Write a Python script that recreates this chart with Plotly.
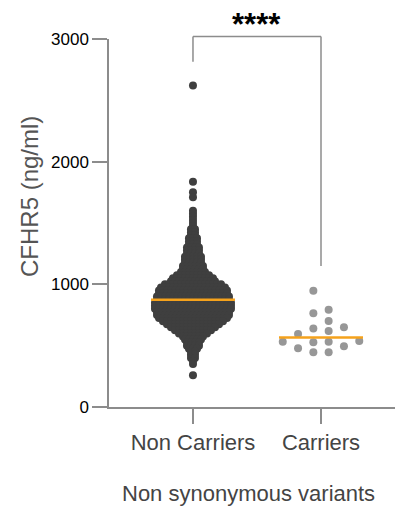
import numpy as np
import plotly.graph_objects as go

# ---------------- data ----------------
categories = ["Non Carriers", "Carriers"]

# Non carriers: dense swarm, read as number of dots per value row (ng/ml)
nc_values = [2620, 1837, 1750, 1709,
             1600, 1575, 1550, 1525, 1500, 1475, 1450, 1425, 1400, 1375,
             1350, 1325, 1300, 1275, 1250, 1225, 1200, 1175, 1150, 1125,
             1100, 1075, 1050, 1025, 1000, 975, 950, 925, 900, 875,
             850, 825, 800, 775, 750, 725, 700, 675, 650, 625,
             600, 575, 550, 525, 500, 475, 450, 425, 400, 375,
             350, 259]
nc_counts = [1, 1, 1, 1,
             1, 1, 1, 1, 1, 1, 2, 2, 2, 3,
             3, 3, 4, 4, 4, 5, 5, 5, 6, 6,
             7, 9, 11, 12, 15, 17, 18, 18, 19, 19,
             20, 20, 20, 19, 19, 18, 16, 14, 12, 10,
             8, 6, 5, 4, 4, 3, 2, 2, 2, 1,
             1, 1]

# Carriers: individual values
carrier_values = [947, 792, 765, 702, 620, 596, 640, 651,
                  528, 539, 531, 531, 447, 496, 447, 479]

y_ticks = [0, 1000, 2000, 3000]
y_title = "CFHR5 (ng/ml)"
x_title = "Non synonymous variants"
sig_label = "****"
# significance bracket: top level, left leg end, right leg end (ng/ml)
bracket_top = 3020
bracket_left_end = 2814
bracket_right_end = 1149

# ---------------- layout / style ----------------
W, H = 395, 508
ML, MR, MT, MB = 109, 0, 39, 101
XR = [-0.656, 1.578]
YR = [0, 3000]
plot_w = W - ML - MR
plot_h = H - MT - MB
px_per_x = plot_w / (XR[1] - XR[0])
px_per_y = plot_h / (YR[1] - YR[0])

AXIS_COL = "#8c8c8c"
NC_COL = "#3f3f3f"
C_COL = "#979797"
MED_COL = "#F5A21C"
FONT = "Liberation Sans, Arial, Helvetica, sans-serif"
DOT = 8

# Non-carrier rows: dots side by side, centred
nc_x, nc_y = [], []
row_step_px = 4.0
for v, n in zip(nc_values, nc_counts):
    for i in range(n):
        off_px = (i - (n - 1) / 2) * row_step_px
        nc_x.append(0 + off_px / px_per_x)
        nc_y.append(v)
nc_all = np.repeat(nc_values, nc_counts)
nc_median = float(np.median(nc_all))

# Carriers: grid swarm (half-integer columns), placed from low to high
grid_px = 15.3
min_dy = 9.5 / px_per_y
placed = []  # (col, value)
c_x, c_y = [], []
for v in sorted(carrier_values):
    k = 0
    chosen = None
    while chosen is None:
        cands = [-(k + 0.5), (k + 0.5)]
        left = sum(1 for c, _ in placed if c < 0)
        right = sum(1 for c, _ in placed if c > 0)
        if right < left:
            cands = cands[::-1]
        for c in cands:
            if all(abs(v - pv) >= min_dy for pc, pv in placed if pc == c):
                chosen = c
                break
        k += 1
    placed.append((chosen, v))
    c_x.append(1 + chosen * grid_px / px_per_x)
    c_y.append(v)
c_median = float(np.median(carrier_values))

fig = go.Figure()
fig.add_trace(go.Scatter(x=nc_x, y=nc_y, mode="markers",
                         marker=dict(size=DOT, color=NC_COL, line=dict(width=0)),
                         hoverinfo="skip", showlegend=False))
fig.add_trace(go.Scatter(x=c_x, y=c_y, mode="markers",
                         marker=dict(size=DOT, color=C_COL, line=dict(width=0)),
                         hoverinfo="skip", showlegend=False))
half = 42 / px_per_x
for cx, med in [(0, nc_median), (1, c_median)]:
    fig.add_trace(go.Scatter(x=[cx - half, cx + half], y=[med, med], mode="lines",
                             line=dict(color=MED_COL, width=2.5),
                             hoverinfo="skip", showlegend=False))

def to_paper(v):
    return (v - YR[0]) / (YR[1] - YR[0])

br = dict(type="line", xref="x", yref="paper", line=dict(color=AXIS_COL, width=1.5))
fig.add_shape(x0=0, x1=1, y0=to_paper(bracket_top), y1=to_paper(bracket_top), **br)
fig.add_shape(x0=0, x1=0, y0=to_paper(bracket_top), y1=to_paper(bracket_left_end), **br)
fig.add_shape(x0=1, x1=1, y0=to_paper(bracket_top), y1=to_paper(bracket_right_end), **br)

fig.add_annotation(x=0.5, xref="x", y=(H - MB - 25) / plot_h, yref="paper",
                   text="<b>" + sig_label + "</b>", showarrow=False,
                   font=dict(family=FONT, size=31, color="black"),
                   xanchor="center", yanchor="middle")
fig.add_annotation(x=(29 - ML) / plot_w, xref="paper", y=(H - MB - 197) / plot_h, yref="paper",
                   text=y_title, textangle=-90, showarrow=False,
                   font=dict(family=FONT, size=24, color="#555555"),
                   xanchor="center", yanchor="middle")
fig.add_annotation(x=(248 - ML) / plot_w, xref="paper", y=(H - MB - 494) / plot_h, yref="paper",
                   text=x_title, showarrow=False,
                   font=dict(family=FONT, size=22, color="#444444"),
                   xanchor="center", yanchor="middle")

fig.update_layout(
    width=W, height=H,
    margin=dict(l=ML, r=MR, t=MT, b=MB, pad=0),
    paper_bgcolor="white", plot_bgcolor="white",
    font=dict(family=FONT),
    showlegend=False,
    xaxis=dict(range=XR, tickvals=[0, 1], ticktext=categories,
               showline=True, linecolor=AXIS_COL, linewidth=1.5,
               ticks="outside", ticklen=15, tickwidth=1.5, tickcolor=AXIS_COL,
               tickfont=dict(size=22, color="#444444", family=FONT),
               showgrid=False, zeroline=False, fixedrange=True),
    yaxis=dict(range=YR, tickvals=y_ticks,
               showline=True, linecolor=AXIS_COL, linewidth=1.5,
               ticks="outside", ticklen=15, tickwidth=1.5, tickcolor=AXIS_COL,
               tickfont=dict(size=17, color="black", family=FONT),
               showgrid=False, zeroline=False, fixedrange=True),
)

fig.write_html("out.html", config={"displayModeBar": False},
               post_script="document.body.style.margin='0';document.body.style.overflow='hidden';")
